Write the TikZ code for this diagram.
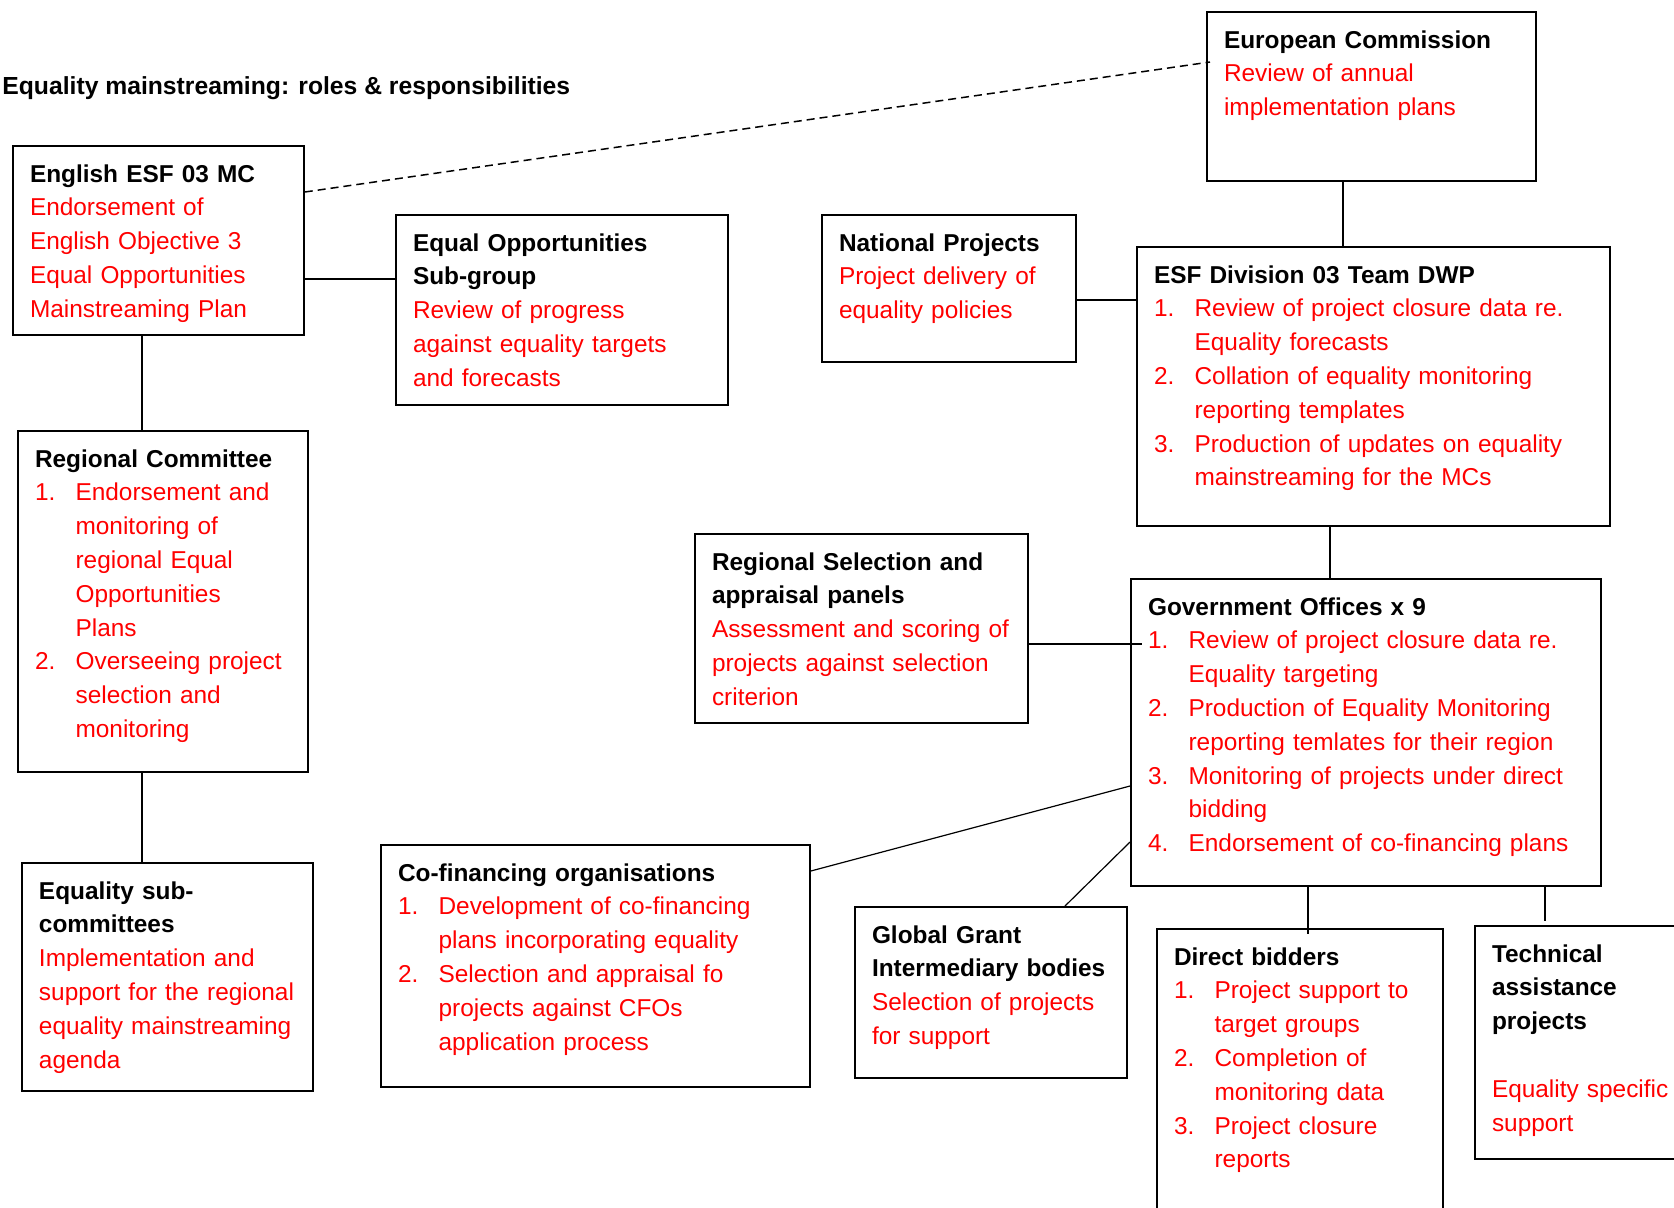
\documentclass[tikz,border=0pt]{standalone}
\usepackage{fontspec}
\setmainfont{Liberation Sans}
\usepackage{tikz}
\newcommand{\boxfont}{\fontsize{12.2}{16.9}\selectfont}
\newcommand{\itemno}[1]{\makebox[20.3pt][l]{#1}}
\newcommand{\itemgap}{\hspace*{20.3pt}}

\begin{document}
\begin{tikzpicture}[x=0.5pt, y=-0.5pt,
		box/.style={draw, line width=0.9pt, anchor=north west, inner sep=0pt},
		role/.style={anchor=base west, align=left, inner sep=0pt, font=\boxfont, text width=260pt},
		link/.style={line width=0.6pt}]
		\useasboundingbox (0,0) rectangle (1674,1207);
		
		\node[anchor=base west, inner sep=0pt, font=\fontsize{12.35}{16.9}\selectfont\bfseries] (title) at (2,94) {Equality mainstreaming: roles \& responsibilities};
		
		\node[box, minimum width=145.5pt, minimum height=94.5pt] (mc) at (12,145) {};
		\node[box, minimum width=166pt, minimum height=95pt] (eqopp) at (395,214) {};
		\node[box, minimum width=127pt, minimum height=73.5pt] (natproj) at (821,214) {};
		\node[box, minimum width=164.5pt, minimum height=84.5pt] (ec) at (1206,11) {};
		\node[box, minimum width=236.5pt, minimum height=139.5pt] (esfdiv) at (1136,246) {};
		\node[box, minimum width=145pt, minimum height=170.5pt] (regcom) at (17,430) {};
		\node[box, minimum width=166.5pt, minimum height=94.5pt] (regsel) at (694,533) {};
		\node[box, minimum width=235pt, minimum height=153.5pt] (gov) at (1130,578) {};
		\node[box, minimum width=145.5pt, minimum height=114pt] (eqsub) at (21,862) {};
		\node[box, minimum width=214.5pt, minimum height=121pt] (cfo) at (380,844) {};
		\node[box, minimum width=136pt, minimum height=85.5pt] (ggib) at (854,906) {};
		\node[box, minimum width=143pt, minimum height=143.5pt] (db) at (1156,928) {};
		\node[box, minimum width=108pt, minimum height=116.5pt] (ta) at (1474,925) {};
		
		\node[role] (mctext) at ([shift={(8.8pt,-18.5pt)}]mc.north west) {\textbf{English ESF 03 MC}\\ \color{red}Endorsement of\\ English Objective 3\\ Equal Opportunities\\ Mainstreaming Plan};
		\node[role] (eqopptext) at ([shift={(8.8pt,-18.5pt)}]eqopp.north west) {\textbf{Equal Opportunities}\\ \textbf{Sub-group}\\ \color{red}Review of progress\\ against equality targets\\ and forecasts};
		\node[role] (natprojtext) at ([shift={(8.8pt,-18.5pt)}]natproj.north west) {\textbf{National Projects}\\ \color{red}Project delivery of\\ equality policies};
		\node[role] (ectext) at ([shift={(8.8pt,-18.5pt)}]ec.north west) {\textbf{European Commission}\\ \color{red}Review of annual\\ implementation plans};
		\node[role] (esfdivtext) at ([shift={(8.8pt,-18.5pt)}]esfdiv.north west) {\textbf{ESF Division 03 Team DWP}\\ \color{red}\itemno{1.}Review of project closure data re.\\ \itemgap Equality forecasts\\ \itemno{2.}Collation of equality monitoring\\ \itemgap reporting templates\\ \itemno{3.}Production of updates on equality\\ \itemgap mainstreaming for the MCs};
		\node[role] (regcomtext) at ([shift={(8.8pt,-18.5pt)}]regcom.north west) {\textbf{Regional Committee}\\ \color{red}\itemno{1.}Endorsement and\\ \itemgap monitoring of\\ \itemgap regional Equal\\ \itemgap Opportunities\\ \itemgap Plans\\ \itemno{2.}Overseeing project\\ \itemgap selection and\\ \itemgap monitoring};
		\node[role] (regseltext) at ([shift={(8.8pt,-18.5pt)}]regsel.north west) {\textbf{Regional Selection and}\\ \textbf{appraisal panels}\\ \color{red}Assessment and scoring of\\ projects against selection\\ criterion};
		\node[role] (govtext) at ([shift={(8.8pt,-18.5pt)}]gov.north west) {\textbf{Government Offices x 9}\\ \color{red}\itemno{1.}Review of project closure data re.\\ \itemgap Equality targeting\\ \itemno{2.}Production of Equality Monitoring\\ \itemgap reporting temlates for their region\\ \itemno{3.}Monitoring of projects under direct\\ \itemgap bidding\\ \itemno{4.}Endorsement of co-financing plans};
		\node[role] (eqsubtext) at ([shift={(8.8pt,-18.5pt)}]eqsub.north west) {\textbf{Equality sub-}\\ \textbf{committees}\\ \color{red}Implementation and\\ support for the regional\\ equality mainstreaming\\ agenda};
		\node[role] (cfotext) at ([shift={(8.8pt,-18.5pt)}]cfo.north west) {\textbf{Co-financing organisations}\\ \color{red}\itemno{1.}Development of co-financing\\ \itemgap plans incorporating equality\\ \itemno{2.}Selection and appraisal fo\\ \itemgap projects against CFOs\\ \itemgap application process};
		\node[role] (ggibtext) at ([shift={(8.8pt,-18.5pt)}]ggib.north west) {\textbf{Global Grant}\\ \textbf{Intermediary bodies}\\ \color{red}Selection of projects\\ for support};
		\node[role] (dbtext) at ([shift={(8.8pt,-18.5pt)}]db.north west) {\textbf{Direct bidders}\\ \color{red}\itemno{1.}Project support to\\ \itemgap target groups\\ \itemno{2.}Completion of\\ \itemgap monitoring data\\ \itemno{3.}Project closure\\ \itemgap reports};
		\node[role] (tatext) at ([shift={(8.8pt,-18.5pt)}]ta.north west) {\textbf{Technical}\\ \textbf{assistance}\\ \textbf{projects}\\[16.9pt] \color{red}Equality specific\\ support};
		
		\draw[line width=0.75pt, dash pattern=on 4pt off 2.5pt] ([yshift=-23.5pt]mc.north east) -- ([shift={(2pt,-25.5pt)}]ec.north west);
		\draw[link] ([yshift=-67pt]mc.north east) coordinate (mcr) -- (mcr -| eqopp.west);
		\draw[link] ([xshift=65pt]mc.south west) coordinate (mcb) -- (mcb |- regcom.north);
		\draw[link] ([xshift=62.5pt]regcom.south west) coordinate (rcb) -- (rcb |- eqsub.north);
		\draw[link] ([xshift=68.5pt]ec.south west) coordinate (ecb) -- (ecb |- esfdiv.north);
		\draw[link] ([yshift=-43pt]natproj.north east) coordinate (npr) -- (npr -| esfdiv.west);
		\draw[link] ([xshift=97pt]esfdiv.south west) coordinate (edb) -- (edb |- gov.north);
		\draw[link] ([yshift=-55.5pt]regsel.north east) coordinate (rsr) -- ([xshift=6pt]rsr -| gov.west);
		\draw[link] ([yshift=-13.5pt]cfo.north east) -- ([yshift=-104pt]gov.north west);
		\draw[link] ([xshift=105.5pt]ggib.north west) -- ([yshift=-132pt]gov.north west);
		\draw[link] ([xshift=89pt]gov.south west) coordinate (gob) -- ([yshift=-3pt]gob |- db.north);
		\draw[link] ([xshift=207.5pt]gov.south west) coordinate (got) -- ([yshift=2pt]got |- ta.north);
		
	\end{tikzpicture}
\end{document}
